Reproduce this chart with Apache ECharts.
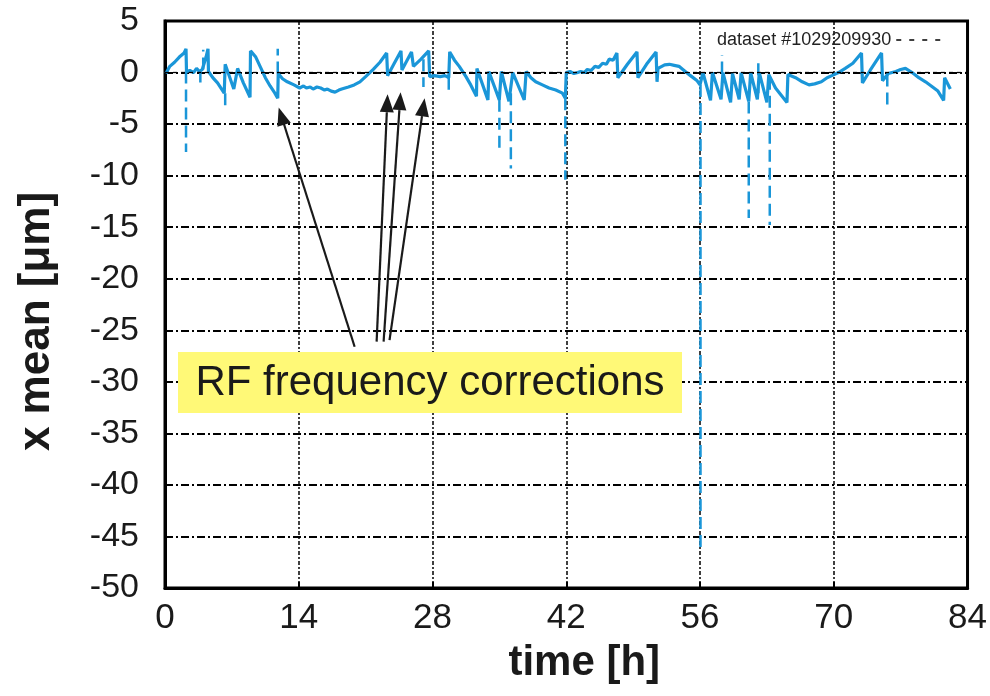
<!DOCTYPE html>
<html>
<head>
<meta charset="utf-8">
<script src="https://cdn.jsdelivr.net/npm/echarts@6/dist/echarts.min.js"></script>
<style>html,body{margin:0;padding:0;background:#fff}#c{width:990px;height:696px}</style>
</head>
<body>
<div id="c"></div>
<script>
// ---- data (time in h, x mean in µm) ----
const seriesName = 'dataset #1029209930';
const traceT = [0.1,0.5,1.0,1.5,2.0,2.2,2.25,2.6,3.0,3.3,3.6,3.9,4.3,4.5,4.55,5.0,5.5,6.2,6.3,6.6,7.2,7.6,8.2,8.9,8.95,9.5,10.0,10.5,11.0,11.5,11.8,11.85,12.3,12.8,13.5,14.1,14.5,14.8,15.2,15.5,15.9,16.3,16.7,17.0,17.4,17.8,18.2,18.5,19.2,19.8,20.4,21.0,21.8,22.5,23.2,23.3,24.0,24.7,24.8,25.8,26.0,26.8,27.6,27.7,28.2,28.8,29.3,29.7,29.8,30.3,30.8,31.5,32.0,32.6,32.65,33.8,33.9,34.99,35.2,36.0,36.4,37.6,37.8,38.3,38.8,39.5,40.2,40.9,41.6,41.9,42.0,42.4,42.8,43.2,43.5,43.9,44.2,44.6,45.0,45.4,45.8,46.2,46.5,46.9,47.3,47.4,48.4,49.4,49.5,50.4,51.4,51.5,51.6,52.3,52.8,53.3,53.8,54.2,55.0,55.7,56.0,56.3,57.1,57.3,58.2,58.4,59.2,59.4,60.1,60.3,61.1,61.3,62.0,62.2,63.0,63.2,63.9,64.5,65.1,65.2,66.0,66.7,67.4,68.0,68.7,69.3,69.8,70.5,71.2,72.0,72.9,73.0,73.8,75.0,75.1,75.7,76.5,77.0,77.5,78.2,78.9,79.6,80.2,80.9,81.5,81.6,82.2];
const traceY = [-0.1,0.6,1.0,1.5,1.9,2.3,0.1,0.2,0.0,0.4,0.1,0.3,1.5,2.3,0.1,-0.5,-1.0,-2.0,0.8,0.0,-1.6,0.4,-1.0,-2.4,2.1,1.5,0.5,-0.5,-1.3,-2.0,-2.5,-0.1,-0.6,-0.9,-1.2,-1.5,-1.3,-1.5,-1.4,-1.6,-1.4,-1.5,-1.7,-1.6,-1.8,-1.9,-1.7,-1.6,-1.4,-1.2,-0.9,-0.4,0.3,1.0,1.9,-0.3,0.9,2.1,0.25,2.0,0.6,1.3,2.1,-0.4,-0.3,-0.4,-0.3,-0.5,2.0,1.2,0.6,-0.4,-1.2,-2.3,0.4,-2.65,0.1,-2.65,0.1,-2.8,0.0,-2.65,0.1,-0.5,-0.9,-1.2,-1.5,-1.7,-2.0,-2.5,0.0,0.1,-0.1,0.0,0.1,0.0,0.3,0.2,0.6,0.5,0.9,0.8,1.3,1.2,1.9,-0.5,0.8,2.0,-0.5,0.8,2.0,-0.9,0.4,0.75,0.8,0.7,0.6,0.3,-0.3,-0.8,-1.2,0.0,-2.7,0.0,-2.6,0.0,-2.9,-0.1,-2.6,0.0,-2.8,0.0,-2.6,0.0,-2.9,-0.2,-1.5,-2.2,-2.9,-0.2,-0.5,-0.9,-1.2,-1.1,-0.9,-0.5,-0.3,0.0,0.4,0.9,1.9,-1.0,0.2,1.9,-0.8,-0.1,0.1,0.3,0.4,0.0,-0.5,-0.9,-1.3,-1.8,-2.7,-0.5,-1.6];
// dashed excursions: time, start value, end value
const spikeT    = [2.2, 3.7, 4.0, 6.3, 11.8, 27.05, 29.7, 35.0, 36.2, 41.9, 56.05, 58.3, 61.1, 62.1, 63.3, 75.6];
const spikeFrom = [0.1, 0.2, 0.3, -2.0, -0.1, 1.3, -0.5, -2.65, -2.0, -2.5, -1.2, -0.1, -2.8, -2.0, -0.5, -0.2];
const spikeTo   = [-7.7, -1.4, 2.2, -3.5, 2.3, -1.4, -1.7, -7.5, -9.3, -10.4, -46.6, 1.7, -14.1, 1.2, -14.8, -3.4];
const xTicks = [0, 14, 28, 42, 56, 70, 84];
const yTicks = [5, 0, -5, -10, -15, -20, -25, -30, -35, -40, -45, -50];
// annotation arrows (data coordinates): tail -> tip
const arrowTail = [[19.85, -26.6], [22.15, -26.1], [22.88, -26.1], [23.5, -25.95]];
const arrowTip  = [[11.9, -3.4], [23.3, -2.1], [24.66, -1.9], [27.17, -2.5]];
const noteText = 'RF frequency corrections';

// ---- build ----
const FONT = "'Liberation Sans', Arial, sans-serif";
const BLUE = '#1a96d8';
const trace = traceT.map((t, i) => [t, traceY[i]]);
const spikes = [];
spikeT.forEach((t, i) => { spikes.push([t, spikeFrom[i]]); spikes.push([t, spikeTo[i]]); spikes.push([t, null]); });

const chart = echarts.init(document.getElementById('c'), null, {renderer: 'canvas'});
chart.setOption({
  backgroundColor: '#fff',
  animation: false,
  grid: {left: 165, right: 21, top: 21, bottom: 108, show: true, borderColor: '#000', borderWidth: 3, backgroundColor: 'transparent'},
  legend: {
    data: [seriesName], right: 43, top: 31, align: 'right', padding: 0,
    itemWidth: 50, itemHeight: 14, itemGap: 8,
    textStyle: {fontFamily: FONT, fontSize: 18, color: '#222'},
    lineStyle: {color: '#000', type: [5, 8], width: 1.5},
    itemStyle: {opacity: 0}
  },
  xAxis: {
    type: 'value', min: xTicks[0], max: xTicks[xTicks.length - 1], interval: 14,
    name: 'time [h]', nameLocation: 'middle', nameGap: 54,
    nameTextStyle: {fontFamily: FONT, fontSize: 42, fontWeight: 'bold', color: '#1a1a1a', padding: [0, 0, 0, 36]},
    axisLine: {show: true, onZero: false, lineStyle: {color: '#000', width: 3}},
    axisTick: {show: true, inside: true, length: 6, lineStyle: {color: '#000', width: 2}},
    axisLabel: {fontFamily: FONT, fontSize: 35, color: '#1a1a1a', margin: 13},
    splitLine: {show: true, lineStyle: {color: '#000', width: 1.5, type: [4, 2, 2, 2]}}
  },
  yAxis: {
    type: 'value', min: yTicks[yTicks.length - 1], max: yTicks[0], interval: 5,
    name: 'x mean [μm]', nameLocation: 'middle', nameGap: 106, nameRotate: 90,
    nameTextStyle: {fontFamily: FONT, fontSize: 44, fontWeight: 'bold', color: '#1a1a1a', padding: [0, 34, 0, 0]},
    axisLine: {show: true, onZero: false, lineStyle: {color: '#000', width: 3}},
    axisTick: {show: true, inside: true, length: 6, lineStyle: {color: '#000', width: 2}},
    axisLabel: {fontFamily: FONT, fontSize: 34, color: '#1a1a1a', margin: 26},
    splitLine: {show: true, lineStyle: {color: '#000', width: 1.8, type: [8, 3, 2, 3]}}
  },
  series: [
    {
      name: seriesName, type: 'line', data: trace, symbol: 'none', showSymbol: false,
      lineStyle: {color: BLUE, width: 3.2}, z: 3,
      markLine: {
        silent: true, symbol: ['none', 'none'], label: {show: false},
        lineStyle: {color: '#000', width: 1.3, type: [4, 4]},
        data: [{yAxis: 0}]
      }
    },
    {
      name: 'spikes', type: 'line', data: spikes, symbol: 'none', showSymbol: false,
      connectNulls: false, lineStyle: {color: BLUE, width: 2.5, type: [12, 6]}, z: 3
    }
  ]
});

// annotation box + arrows
const g = [];
g.push({type: 'rect', shape: {x: 178, y: 352, width: 504, height: 61}, style: {fill: '#fff977'}, z: 10});
g.push({type: 'text', x: 430, y: 383, style: {text: noteText, font: '42px ' + FONT, fill: '#1a1a1a', textAlign: 'center', textVerticalAlign: 'middle'}, z: 11});
arrowTail.forEach((tail, i) => {
  const p0 = chart.convertToPixel({gridIndex: 0}, tail);
  const p1 = chart.convertToPixel({gridIndex: 0}, arrowTip[i]);
  const dx = p1[0] - p0[0], dy = p1[1] - p0[1];
  const L = Math.hypot(dx, dy), ux = dx / L, uy = dy / L;
  const hl = 18, hw = 7;
  const bx = p1[0] - ux * hl, by = p1[1] - uy * hl;
  g.push({type: 'line', shape: {x1: p0[0], y1: p0[1], x2: bx, y2: by}, style: {stroke: '#1a1a1a', lineWidth: 2.2}, z: 12});
  g.push({type: 'polygon', shape: {points: [[p1[0], p1[1]], [bx - uy * hw, by + ux * hw], [bx + uy * hw, by - ux * hw]]}, style: {fill: '#1a1a1a'}, z: 12});
});
chart.setOption({graphic: g});
</script>
</body>
</html>
